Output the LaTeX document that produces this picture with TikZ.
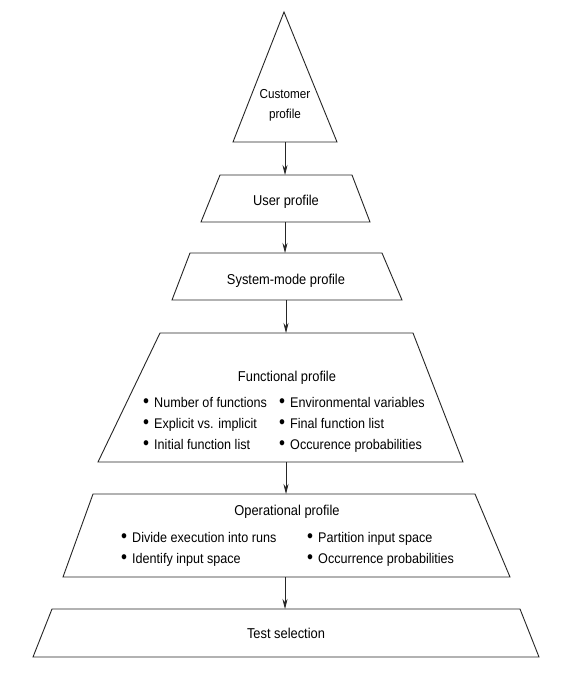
\documentclass[tikz,border=0pt]{standalone}
\usepackage{fontspec}
\setmainfont{Liberation Sans}[FakeStretch=0.9]
\usetikzlibrary{arrows.meta}
% list bullet with a fixed-width slot before the item text
\newcommand\itemdot{\makebox[11pt][l]{\scalebox{1.35}{\textbullet}}}
\begin{document}
\begin{tikzpicture}[x=1pt,y=-1pt,
  level/.style={draw=black!85, line width=0.9pt, line join=miter},
  flow/.style={draw=black!85, line width=0.7pt, -{Stealth[length=10pt,width=5pt]}},
  title/.style={font=\fontsize{14.3}{20}\selectfont, inner sep=0pt, anchor=base, align=center},
  item/.style={font=\fontsize{14}{15}\selectfont, inner sep=0pt, anchor=base west},
]
\useasboundingbox[fill=white] (0,0) rectangle (583,683);

% pyramid levels, top to bottom
\draw[level] (284,12) -- (337,142) -- (233,142) -- cycle;
\coordinate (cust-b) at (285,142);

\draw[level] (220,175) -- (352,175) -- (370,222) -- (201,222) -- cycle;
\coordinate (user-t) at (285,175);
\coordinate (user-b) at (285,222);

\draw[level] (190,253) -- (382,253) -- (402,300) -- (172,300) -- cycle;
\coordinate (sys-t) at (285,253);
\coordinate (sys-b) at (286,300);

\draw[level] (160,333) -- (413,333) -- (463,462) -- (98,462) -- cycle;
\coordinate (func-t) at (286,333);
\coordinate (func-b) at (286,462);

\draw[level] (93,494) -- (475,494) -- (510,577) -- (63,577) -- cycle;
\coordinate (oper-t) at (286,494);
\coordinate (oper-b) at (285,577);

\draw[level] (52,609) -- (520,609) -- (539,657) -- (33,657) -- cycle;
\coordinate (test-t) at (285,609);

% level titles
\node[title, font=\fontsize{13}{20}\selectfont] (cust) at (285,118) {Customer\\profile};
\node[title] (user) at (286,205) {User profile};
\node[title] (sys) at (286,284) {System-mode profile};
\node[title] (func) at (287,381) {Functional profile};
\node[title] (oper) at (287,515) {Operational profile};
\node[title] (test) at (286,638) {Test selection};

% functional profile items
\node[item] (f1) at (143,407) {\itemdot Number of functions};
\node[item] (f2) at (143,428) {\itemdot Explicit vs. implicit};
\node[item] (f3) at (143,449) {\itemdot Initial function list};
\node[item] (f4) at (279,407) {\itemdot Environmental variables};
\node[item] (f5) at (279,428) {\itemdot Final function list};
\node[item] (f6) at (279,449) {\itemdot Occurence probabilities};

% operational profile items
\node[item] (o1) at (121,542) {\itemdot Divide execution into runs};
\node[item] (o2) at (121,563) {\itemdot Identify input space};
\node[item] (o3) at (307,542) {\itemdot Partition input space};
\node[item] (o4) at (307,563) {\itemdot Occurrence probabilities};

% connectors between levels
\draw[flow] (cust-b) -- (user-t);
\draw[flow] (user-b) -- (sys-t);
\draw[flow] (sys-b) -- (func-t);
\draw[flow] (func-b) -- (oper-t);
\draw[flow] (oper-b) -- (test-t);
\end{tikzpicture}
\end{document}
